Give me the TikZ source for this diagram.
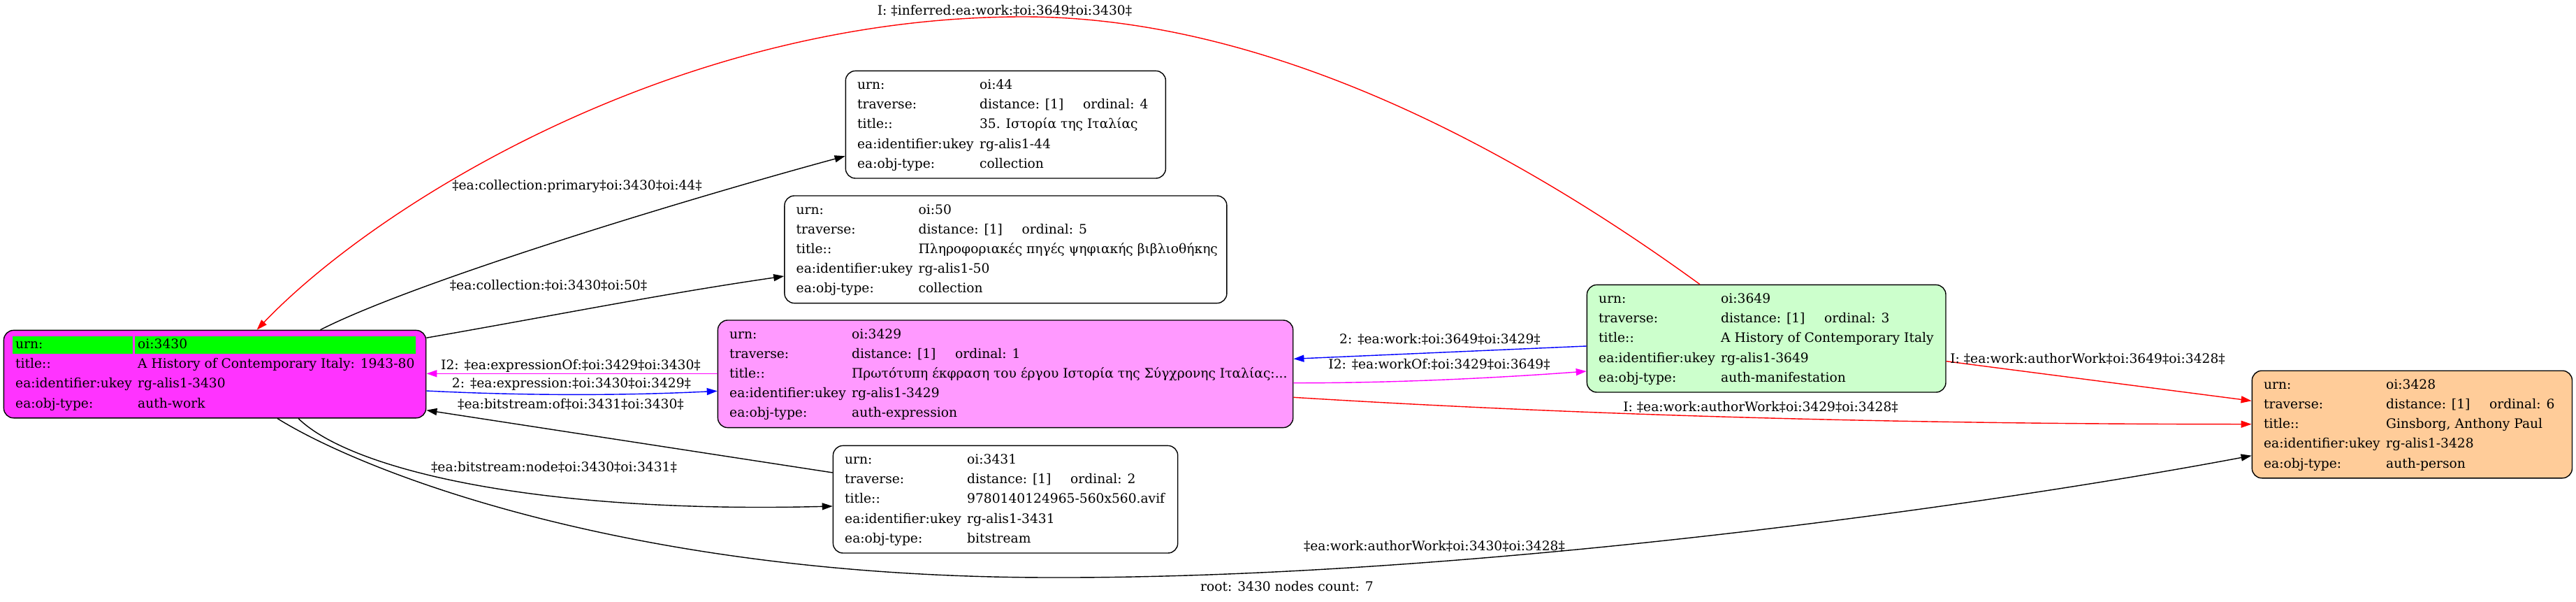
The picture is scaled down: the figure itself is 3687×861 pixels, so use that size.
\documentclass[tikz,border=0pt]{standalone}
\usepackage{fontspec}
\setmainfont{DejaVu Serif}
\usetikzlibrary{arrows.meta,calc}
\definecolor{cWork}{HTML}{FF33FF}
\definecolor{cExpr}{HTML}{FF99FF}
\definecolor{cMan}{HTML}{CCFFCC}
\definecolor{cPers}{HTML}{FFCC99}
\definecolor{cHi}{HTML}{00FF00}
\definecolor{eRed}{HTML}{FF0000}
\definecolor{eBlue}{HTML}{0000FF}
\definecolor{eMag}{HTML}{FF00FF}
\newcommand\fs{\fontsize{18.67}{28.2}\selectfont}
\newcommand\kv[2]{\makebox[175pt][l]{#1}#2\\}
\newcommand\trv[1]{\makebox[175pt][l]{traverse:}\makebox[148pt][l]{distance: [1]}ordinal: #1\\}
\newcommand\ntab[2]{\makebox[#1][l]{\begin{tabular}{@{}l@{}}#2\end{tabular}}}
\tikzset{
  rbox/.style={draw=black, line width=1.4pt, rounded corners=14pt, anchor=north west,
    inner xsep=16.8pt, inner ysep=6.3pt, font=\fs},
  edge/.style={line width=1.4pt, -{Triangle[length=15pt,width=10pt]}},
  lbl/.style={font=\fs, inner sep=0pt}
}
\begin{document}
\begin{tikzpicture}[x=1pt,y=-1pt]
\useasboundingbox (0,0) rectangle (3687,861);

% nodes
\node[rbox, fill=cWork] (n3430) at (4.7,471.7) {\ntab{570.7pt}{%
\rlap{\hspace{-3.9pt}\textcolor{cHi}{\rule[-7.26pt]{172pt}{25pt}}}\rlap{\hspace{170.8pt}\textcolor{cHi}{\rule[-7.26pt]{402.3pt}{25pt}}}\kv{urn:}{oi:3430}
\kv{title::}{A History of Contemporary Italy: 1943-80}
\kv{ea:identifier:ukey}{rg-alis1-3430}
\kv{ea:obj-type:}{auth-work}}};

\node[rbox, fill=white] (n44) at (1209.6,100.7) {\ntab{424.5pt}{%
\kv{urn:}{oi:44}
\trv{4}
\kv{title::}{35. Ιστορία της Ιταλίας}
\kv{ea:identifier:ukey}{rg-alis1-44}
\kv{ea:obj-type:}{collection}}};

\node[rbox, fill=white] (n50) at (1122.2,279.3) {\ntab{599.4pt}{%
\kv{urn:}{oi:50}
\trv{5}
\kv{title::}{Πληροφοριακές πηγές ψηφιακής βιβλιοθήκης}
\kv{ea:identifier:ukey}{rg-alis1-50}
\kv{ea:obj-type:}{collection}}};

\node[rbox, fill=cExpr] (n3429) at (1026.7,457.3) {\ntab{789.7pt}{%
\kv{urn:}{oi:3429}
\trv{1}
\kv{title::}{Πρωτότυπη έκφραση του έργου Ιστορία της Σύγχρονης Ιταλίας:...}
\kv{ea:identifier:ukey}{rg-alis1-3429}
\kv{ea:obj-type:}{auth-expression}}};

\node[rbox, fill=white] (n3431) at (1191.7,636.7) {\ntab{459.7pt}{%
\kv{urn:}{oi:3431}
\trv{2}
\kv{title::}{9780140124965-560x560.avif}
\kv{ea:identifier:ukey}{rg-alis1-3431}
\kv{ea:obj-type:}{bitstream}}};

\node[rbox, fill=cMan] (n3649) at (2270.7,406.7) {\ntab{480pt}{%
\kv{urn:}{oi:3649}
\trv{3}
\kv{title::}{A History of Contemporary Italy}
\kv{ea:identifier:ukey}{rg-alis1-3649}
\kv{ea:obj-type:}{auth-manifestation}}};

\node[rbox, fill=cPers] (n3428) at (3222.6,529.5) {\ntab{424.6pt}{%
\kv{urn:}{oi:3428}
\trv{6}
\kv{title::}{Ginsborg, Anthony Paul}
\kv{ea:identifier:ukey}{rg-alis1-3428}
\kv{ea:obj-type:}{auth-person}}};

% edges
\draw[edge] ($(n3430.north west)+(453.8,0)$) .. controls (600,400) and (1000,280) .. ($(n44.north west)+(0,122.6)$);
\draw[edge] ($(n3430.north east)+(0,11.5)$) .. controls (800,450) and (950,420) .. ($(n50.north west)+(0,115.7)$);
\draw[edge, eMag] ($(n3429.north west)+(0,77)$) -- ($(n3430.north east)+(0,62.6)$);
\draw[edge, eBlue] ($(n3430.north east)+(0,87.3)$) .. controls (750,566) and (890,566) .. ($(n3429.north west)+(0,102)$);
\draw[edge] ($(n3431.north west)+(0,39.3)$) -- ($(n3430.north east)+(0,115)$);
\draw[edge] ($(n3430.south west)+(422.3,0)$) .. controls (500,670) and (760,735) .. ($(n3431.north west)+(0,87.3)$);
\draw[edge] ($(n3430.south west)+(392.3,0)$) .. controls (520,675) and (900,825) .. (1500,826)
  .. controls (2100,828) and (2850,722) .. ($(n3428.north west)+(0,122.2)$);
\draw[edge, eBlue] ($(n3649.north west)+(0,88.3)$) -- ($(n3429.north east)+(0,56)$);
\draw[edge, eMag] ($(n3429.north east)+(0,90.4)$) .. controls (2000,548) and (2150,540) .. ($(n3649.north west)+(0,124.3)$);
\draw[edge, eRed] ($(n3429.north east)+(0,111)$) .. controls (2250,593) and (2700,606.7) .. ($(n3428.north west)+(0,77.2)$);
\draw[edge, eRed] ($(n3649.north east)+(0,110)$) -- ($(n3428.north west)+(0,43.8)$);
\draw[edge, eRed] ($(n3649.north west)+(162.3,0)$) .. controls (2200,237.6) and (1838,24) .. (1465,24)
  .. controls (965,24) and (535.6,295.7) .. ($(n3430.north west)+(362.9,0)$);

% edge labels
\node[lbl] (l1) at (826,266) {‡ea:collection:primary‡oi:3430‡oi:44‡};
\node[lbl] (l2) at (785,408) {‡ea:collection:‡oi:3430‡oi:50‡};
\node[lbl] (l3) at (817,523.3) {I2: ‡ea:expressionOf:‡oi:3429‡oi:3430‡};
\node[lbl] (l4) at (818,550) {2: ‡ea:expression:‡oi:3430‡oi:3429‡};
\node[lbl] (l5) at (817,578.3) {‡ea:bitstream:of‡oi:3431‡oi:3430‡};
\node[lbl] (l6) at (793,668) {‡ea:bitstream:node‡oi:3430‡oi:3431‡};
\node[lbl] (l7) at (2053,781) {‡ea:work:authorWork‡oi:3430‡oi:3428‡};
\node[lbl] (l8) at (2061,485) {2: ‡ea:work:‡oi:3649‡oi:3429‡};
\node[lbl] (l9) at (2060,521.7) {I2: ‡ea:workOf:‡oi:3429‡oi:3649‡};
\node[lbl] (l10) at (2520,582) {I: ‡ea:work:authorWork‡oi:3429‡oi:3428‡};
\node[lbl] (l11) at (2988,513) {I: ‡ea:work:authorWork‡oi:3649‡oi:3428‡};
\node[lbl] (l12) at (1438,15) {I: ‡inferred:ea:work:‡oi:3649‡oi:3430‡};
\node[lbl] (foot) at (1842,839) {root: 3430 nodes count: 7};
\end{tikzpicture}
\end{document}
